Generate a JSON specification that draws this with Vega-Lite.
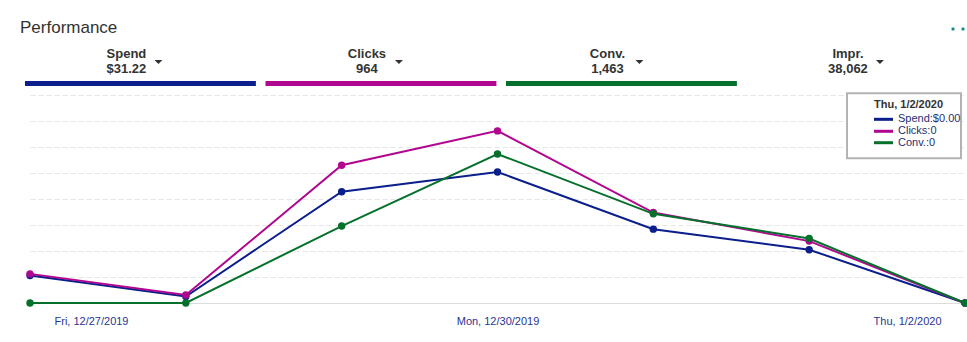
{
  "$schema": "https://vega.github.io/schema/vega-lite/v6.json",
  "width": 935,
  "height": 260,
  "autosize": "none",
  "padding": {"left": 30, "top": 43, "right": 2, "bottom": 39},
  "background": "white",
  "title": {"text": "Performance", "anchor": "start", "frame": "group", "dx": -10, "offset": -9, "fontSize": 17, "font": "Liberation Sans", "fontWeight": "normal", "color": "#333333"},
  "config": {"view": {"stroke": null}, "font": "Liberation Sans"},
  "resolve": {"scale": {"x": "independent"}},
  "layer": [
    {
      "layer": [
        {
          "data": {"values": [
            {"date": "2019-12-27", "series": "Spend", "value": 10.6},
            {"date": "2019-12-28", "series": "Spend", "value": 2.5},
            {"date": "2019-12-29", "series": "Spend", "value": 42.8},
            {"date": "2019-12-30", "series": "Spend", "value": 50.4},
            {"date": "2019-12-31", "series": "Spend", "value": 28.4},
            {"date": "2020-01-01", "series": "Spend", "value": 20.5},
            {"date": "2020-01-02", "series": "Spend", "value": 0},
            {"date": "2019-12-27", "series": "Clicks", "value": 11.2},
            {"date": "2019-12-28", "series": "Clicks", "value": 3.1},
            {"date": "2019-12-29", "series": "Clicks", "value": 53.0},
            {"date": "2019-12-30", "series": "Clicks", "value": 66.2},
            {"date": "2019-12-31", "series": "Clicks", "value": 34.8},
            {"date": "2020-01-01", "series": "Clicks", "value": 23.8},
            {"date": "2020-01-02", "series": "Clicks", "value": 0},
            {"date": "2019-12-27", "series": "Conv.", "value": 0},
            {"date": "2019-12-28", "series": "Conv.", "value": 0},
            {"date": "2019-12-29", "series": "Conv.", "value": 29.6},
            {"date": "2019-12-30", "series": "Conv.", "value": 57.3},
            {"date": "2019-12-31", "series": "Conv.", "value": 34.3},
            {"date": "2020-01-01", "series": "Conv.", "value": 24.8},
            {"date": "2020-01-02", "series": "Conv.", "value": 0}
          ]},
          "encoding": {
            "x": {"field": "date", "type": "temporal", "scale": {"type": "utc", "domain": [{"year": 2019, "month": 12, "date": 27, "utc": true}, {"year": 2020, "month": 1, "date": 2, "utc": true}]},
              "axis": {"values": [{"year": 2019, "month": 12, "date": 27, "utc": true}, {"year": 2019, "month": 12, "date": 30, "utc": true}, {"year": 2020, "month": 1, "date": 2, "utc": true}],
                "format": "%a, %-m/%-d/%Y", "labelFlush": true, "labelFlushOffset": -24, "ticks": false, "domain": false, "grid": false, "title": null, "tickCount": 30,
                "labelColor": "#283593", "labelFontSize": 11, "labelPadding": 12, "labelFont": "Liberation Sans"}},
            "y": {"field": "value", "type": "quantitative", "scale": {"domain": [0, 100], "nice": false},
              "axis": {"values": [0, 10, 20, 30, 40, 50, 60, 70, 80], "tickCount": 30, "labels": false, "ticks": false, "domain": false, "title": null, "grid": true,
                "gridDash": {"condition": {"test": "datum.value === 0", "value": []}, "value": [5, 3]},
                "gridColor": {"condition": {"test": "datum.value === 0", "value": "#dcdcdc"}, "value": "#e6e6e6"}, "gridWidth": 1}},
            "color": {"field": "series", "type": "nominal", "scale": {"domain": ["Spend", "Clicks", "Conv."], "range": ["#0a1e8c", "#b1068f", "#05702b"]}, "legend": null}
          },
          "layer": [
            {"mark": {"type": "line", "strokeWidth": 2}},
            {"mark": {"type": "point", "filled": true, "size": 55, "opacity": 1}}
          ]
        },
        {
          "data": {"values": [{"k": "box"}]},
          "mark": {"type": "rect", "fill": "white", "stroke": "#b3b3b3", "strokeWidth": 2, "xOffset": -118, "x2Offset": -4},
          "encoding": {
            "x": {"datum": {"year": 2020, "month": 1, "date": 2, "utc": true}, "type": "temporal"},
            "x2": {"datum": {"year": 2020, "month": 1, "date": 2, "utc": true}},
            "y": {"datum": 80.65}, "y2": {"datum": 55.65}
          }
        },
        {
          "data": {"values": [{"t": "Thu, 1/2/2020"}]},
          "mark": {"type": "text", "align": "left", "baseline": "middle", "dx": -91, "fontSize": 11, "fontWeight": "bold", "color": "#333333"},
          "encoding": {
            "x": {"datum": {"year": 2020, "month": 1, "date": 2, "utc": true}, "type": "temporal"},
            "y": {"datum": 76.15}, "text": {"field": "t"}
          }
        },
        {
          "data": {"values": [{"t": "Spend:$0.00"}]},
          "encoding": {"x": {"datum": {"year": 2020, "month": 1, "date": 2, "utc": true}, "type": "temporal"}, "y": {"datum": 70.65}},
          "layer": [
            {"mark": {"type": "rule", "stroke": "#0a1e8c", "strokeWidth": 3, "xOffset": -91, "x2Offset": -72}, "encoding": {"x2": {"datum": {"year": 2020, "month": 1, "date": 2, "utc": true}}}},
            {"mark": {"type": "text", "align": "left", "baseline": "middle", "dx": -67, "fontSize": 11, "color": "#1f2f73"}, "encoding": {"text": {"field": "t"}}}
          ]
        },
        {
          "data": {"values": [{"t": "Clicks:0"}]},
          "encoding": {"x": {"datum": {"year": 2020, "month": 1, "date": 2, "utc": true}, "type": "temporal"}, "y": {"datum": 66.04}},
          "layer": [
            {"mark": {"type": "rule", "stroke": "#b1068f", "strokeWidth": 3, "xOffset": -91, "x2Offset": -72}, "encoding": {"x2": {"datum": {"year": 2020, "month": 1, "date": 2, "utc": true}}}},
            {"mark": {"type": "text", "align": "left", "baseline": "middle", "dx": -67, "fontSize": 11, "color": "#1f2f73"}, "encoding": {"text": {"field": "t"}}}
          ]
        },
        {
          "data": {"values": [{"t": "Conv.:0"}]},
          "encoding": {"x": {"datum": {"year": 2020, "month": 1, "date": 2, "utc": true}, "type": "temporal"}, "y": {"datum": 61.65}},
          "layer": [
            {"mark": {"type": "rule", "stroke": "#05702b", "strokeWidth": 3, "xOffset": -91, "x2Offset": -72}, "encoding": {"x2": {"datum": {"year": 2020, "month": 1, "date": 2, "utc": true}}}},
            {"mark": {"type": "text", "align": "left", "baseline": "middle", "dx": -67, "fontSize": 11, "color": "#1f2f73"}, "encoding": {"text": {"field": "t"}}}
          ]
        },
        {
          "data": {"values": [{"k": "dot"}]},
          "encoding": {"x": {"datum": {"year": 2020, "month": 1, "date": 2, "utc": true}, "type": "temporal"}, "y": {"datum": 105.38}},
          "layer": [
            {"mark": {"type": "point", "shape": "square", "filled": true, "size": 8, "opacity": 1, "color": "#11868a", "xOffset": -12}},
            {"mark": {"type": "point", "shape": "square", "filled": true, "size": 8, "opacity": 1, "color": "#11868a", "xOffset": -2}}
          ]
        }
      ]
    },
    {
      "data": {"values": [
        {"tab": "Spend", "val": "$31.22"},
        {"tab": "Clicks", "val": "964"},
        {"tab": "Conv.", "val": "1,463"},
        {"tab": "Impr.", "val": "38,062"}
      ]},
      "encoding": {
        "x": {"field": "tab", "type": "nominal", "sort": null, "scale": {"type": "band", "domain": ["Spend", "Clicks", "Conv.", "Impr."], "range": [-5, 947.4], "paddingInner": 0.04, "paddingOuter": 0}, "axis": null}
      },
      "layer": [
        {
          "transform": [{"filter": "datum.tab !== 'Impr.'"}],
          "mark": {"type": "bar"},
          "encoding": {
            "y": {"datum": 85.38}, "y2": {"datum": 83.46},
            "color": {"field": "tab", "type": "nominal", "scale": {"domain": ["Spend", "Clicks", "Conv."], "range": ["#0a1e8c", "#b1068f", "#05702b"]}, "legend": null}
          }
        },
        {
          "mark": {"type": "text", "dx": -14, "baseline": "middle", "fontSize": 13, "fontWeight": "bold", "color": "#333333"},
          "encoding": {"y": {"datum": 95.77}, "text": {"field": "tab"}}
        },
        {
          "mark": {"type": "text", "dx": -14, "baseline": "middle", "fontSize": 13, "fontWeight": "bold", "color": "#333333"},
          "encoding": {"y": {"datum": 90.0}, "text": {"field": "val"}}
        },
        {
          "mark": {"type": "point", "shape": "M-1,-0.5L1,-0.5L0,0.5Z", "filled": true, "size": 64, "opacity": 1, "color": "#333333", "xOffset": 18},
          "encoding": {"y": {"datum": 92.69}}
        }
      ]
    }
  ]
}
